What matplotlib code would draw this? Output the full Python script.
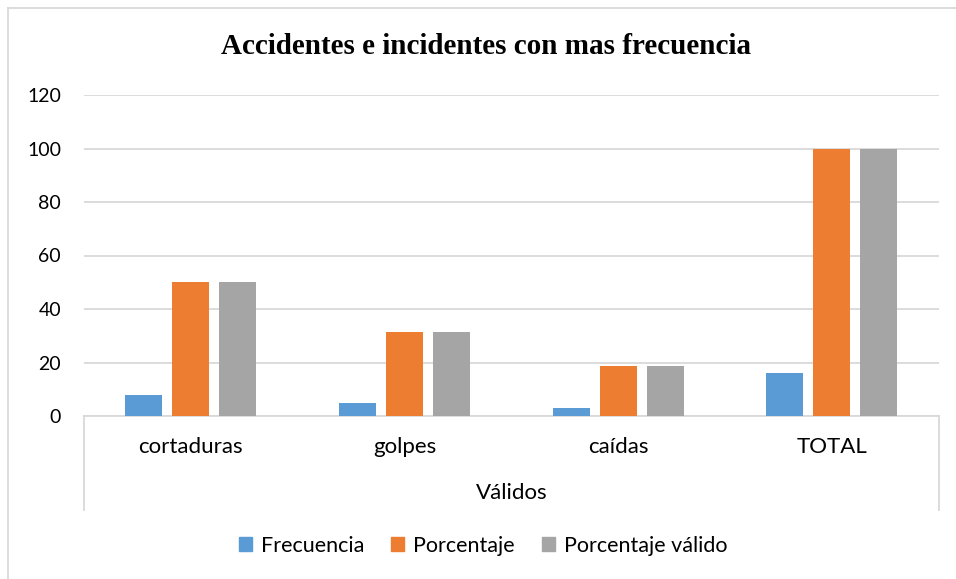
import matplotlib.pyplot as plt
from matplotlib.lines import Line2D
import numpy as np

categories = ["cortaduras", "golpes", "caídas", "TOTAL"]
frecuencia = [8, 5, 3, 16]
porcentaje = [50, 31.25, 18.75, 100]
porcentaje_valido = [50, 31.25, 18.75, 100]
series_names = ["Frecuencia", "Porcentaje", "Porcentaje válido"]
colors = ["#5B9BD5", "#ED7D31", "#A5A5A5"]
grid_color = "#D9D9D9"

W, H = 956, 579
fig = plt.figure(figsize=(W / 100, H / 100), dpi=100)
# plot area in pixels: left 84, right 938.5, top 95, bottom 416
ax = fig.add_axes([84 / W, 1 - 416 / H, (938.5 - 84) / W, (416 - 95) / H])

x = np.arange(len(categories))
width = 0.173
step = 0.22
for i, (vals, name) in enumerate(zip([frecuencia, porcentaje, porcentaje_valido], series_names)):
    ax.bar(x + (i - 1) * step, vals, width, color=colors[i], label=name, zorder=3)

ax.set_xlim(-0.5, len(categories) - 0.5)
ax.set_ylim(0, 120)
ax.set_yticks(range(0, 121, 20))
ax.yaxis.grid(True, color=grid_color, linewidth=1.3, zorder=0)
for s in ["top", "right", "left"]:
    ax.spines[s].set_visible(False)
ax.spines["bottom"].set_color(grid_color)
ax.spines["bottom"].set_linewidth(1.3)
ax.tick_params(axis="y", length=0, pad=16.5, labelsize=14)
ax.tick_params(axis="x", length=0, pad=15, labelsize=16)
ax.set_xticks(x)
ax.set_xticklabels(categories)
for lab in ax.get_xticklabels() + ax.get_yticklabels():
    lab.set_fontfamily("Lato")

# multi-level category axis: outer separators and group label
trans = ax.get_xaxis_transform()
sep_bottom = -(510 - 416) / (416 - 95)
for xv in [-0.5, len(categories) - 0.5]:
    ax.plot([xv, xv], [0, sep_bottom], transform=trans, color=grid_color,
            linewidth=1.3, clip_on=False)
ax.text((len(categories) - 1) / 2, -(493 - 416) / (416 - 95), "Válidos", transform=trans,
        ha="center", va="center", fontsize=16, family="Lato")

fig.text(486 / W, 1 - 47 / H, "Accidentes e incidentes con mas frecuencia",
         ha="center", va="center", fontsize=21, fontweight="bold",
         family="Liberation Serif")

handles = [plt.Rectangle((0, 0), 1, 1, color=c) for c in colors]
fig.legend(handles, series_names, loc="center", bbox_to_anchor=(483 / W, 1 - 546 / H),
           ncol=3, frameon=False, prop={"family": "Lato", "size": 15.5},
           handlelength=0.62, handleheight=0.62, handletextpad=0.4, columnspacing=1.25)

# chart frame (top and left edges visible)
fig.add_artist(Line2D([8 / W, 1], [1 - 8 / H, 1 - 8 / H], color=grid_color, linewidth=1.3))
fig.add_artist(Line2D([8 / W, 8 / W], [0, 1 - 8 / H], color=grid_color, linewidth=1.3))

fig.savefig("out.png", dpi=100)
